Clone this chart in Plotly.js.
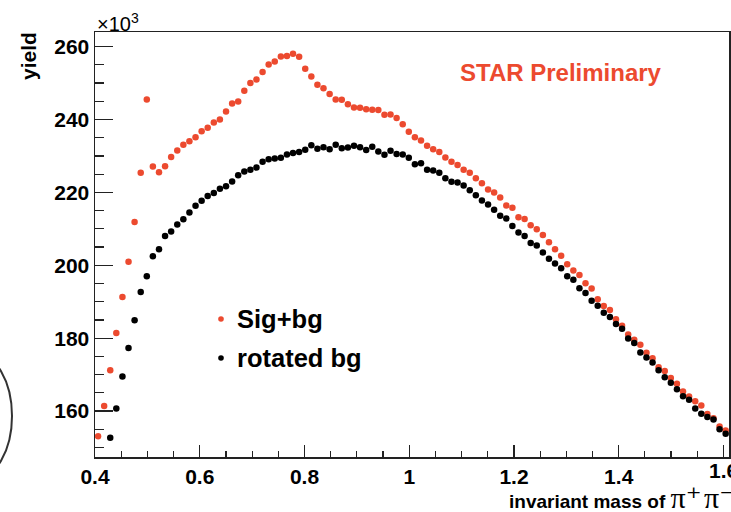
<!DOCTYPE html>
<html>
<head>
<meta charset="utf-8">
<script src="https://cdn.plot.ly/plotly-3.0.1.min.js"></script>
<style>
  html, body { margin: 0; padding: 0; background: #fff; }
  #chart { width: 731px; height: 512px; }
</style>
</head>
<body>
<div id="chart"></div>
<script>
// pi+pi- invariant mass, bin centres (GeV/c^2)
const massBins = [
  0.4058, 0.4175, 0.4291, 0.4407, 0.4524, 0.4640, 0.4756, 0.4873, 0.4989, 0.5105,
  0.5222, 0.5338, 0.5454, 0.5571, 0.5687, 0.5803, 0.5920, 0.6036, 0.6152, 0.6269,
  0.6385, 0.6502, 0.6618, 0.6734, 0.6851, 0.6967, 0.7083, 0.7200, 0.7316, 0.7432,
  0.7549, 0.7665, 0.7781, 0.7898, 0.8014, 0.8131, 0.8247, 0.8363, 0.8480, 0.8596,
  0.8712, 0.8829, 0.8945, 0.9061, 0.9178, 0.9294, 0.9410, 0.9527, 0.9643, 0.9759,
  0.9876, 0.9992, 1.0108, 1.0225, 1.0341, 1.0457, 1.0574, 1.0690, 1.0807, 1.0923,
  1.1039, 1.1156, 1.1272, 1.1388, 1.1505, 1.1621, 1.1737, 1.1854, 1.1970, 1.2086,
  1.2203, 1.2319, 1.2435, 1.2552, 1.2668, 1.2784, 1.2901, 1.3017, 1.3134, 1.3250,
  1.3366, 1.3483, 1.3599, 1.3715, 1.3832, 1.3948, 1.4064, 1.4181, 1.4297, 1.4413,
  1.4530, 1.4646, 1.4762, 1.4879, 1.4995, 1.5112, 1.5228, 1.5344, 1.5461, 1.5577,
  1.5693, 1.5810, 1.5926, 1.6042
];

// same-event pairs (signal + background), yield in units of 10^3
const sigPlusBg = [
  153.1, 161.4, 171.2, 181.4, 191.3, 201.0, 211.9, 225.4, 245.5, 227.1,
  225.5, 227.2, 229.7, 231.5, 233.1, 234.0, 235.1, 236.8, 237.7, 239.2,
  240.0, 242.2, 244.4, 244.9, 247.9, 250.0, 251.0, 253.0, 255.1, 255.9,
  257.3, 257.4, 258.0, 257.2, 253.9, 251.8, 249.5, 248.6, 247.0, 245.5,
  245.4, 244.2, 243.3, 243.2, 242.8, 242.7, 242.6, 241.3, 241.4, 240.4,
  238.7, 236.6, 235.1, 234.2, 232.8, 231.8, 231.1, 229.6, 228.4, 227.5,
  226.2, 225.4, 223.9, 222.5, 220.8, 220.0, 218.6, 216.4, 215.8, 213.2,
  212.7, 211.0, 209.9, 208.3, 206.3, 204.4, 202.6, 200.3, 198.6, 197.3,
  195.1, 193.6, 190.7, 188.8, 187.7, 185.2, 183.4, 181.0, 179.6, 178.2,
  176.0, 174.5, 172.0, 171.0, 169.1, 167.5, 165.4, 164.0, 162.7, 161.5,
  159.2, 158.0, 155.8, 154.7
];

// rotated-track background, yield in units of 10^3 (first two bins fall below the axis)
const rotatedBg = [
  null, null, 152.7, 160.7, 169.5, 177.3, 184.9, 192.7, 197.0, 202.5,
  204.4, 208.0, 209.3, 211.2, 212.6, 214.5, 216.3, 217.7, 219.0, 219.8,
  221.0, 221.7, 223.0, 224.7, 225.7, 226.2, 226.8, 228.4, 229.1, 229.3,
  229.5, 230.4, 230.8, 231.1, 231.7, 232.9, 232.0, 232.4, 231.8, 233.1,
  232.1, 232.3, 232.8, 232.4, 231.6, 232.5, 231.2, 230.3, 231.4, 230.5,
  230.4, 229.5, 227.7, 228.0, 226.2, 226.0, 225.4, 223.9, 222.9, 222.7,
  221.9, 220.6, 219.2, 217.8, 216.7, 215.2, 213.6, 212.8, 210.8, 209.0,
  208.0, 206.1, 205.4, 203.5, 201.8, 200.5, 199.2, 197.0, 196.0, 193.7,
  192.4, 190.3, 188.9, 187.0, 185.8, 183.9, 182.6, 179.9, 178.7, 176.1,
  174.7, 173.3, 171.2, 169.3, 167.8, 166.0, 164.1, 163.1, 160.7, 159.3,
  158.4, 157.7, 155.0, 153.8
];

const seriesNames = ['Sig+bg', 'rotated bg'];

// x tick label at the right edge of the frame, drawn separately so it can run off the page
const edgeTick = { value: 1.6, label: '1.6' };

const RED = '#ec4a2f';
const FONT = 'Liberation Sans, Arial, sans-serif';

// plot-area geometry in pixels, used to place the ROOT-style key and labels
const W = 731, H = 512, ML = 95, MR = 2, MT = 32, MB = 55;
const PW = W - ML - MR, PH = H - MT - MB;
const px = v => (v - ML) / PW;
const py = v => (H - MB - v) / PH;

const traces = [
  {
    x: massBins, y: sigPlusBg, name: seriesNames[0],
    type: 'scatter', mode: 'markers',
    marker: { color: RED, size: 6.5 }
  },
  {
    x: massBins, y: rotatedBg, name: seriesNames[1],
    type: 'scatter', mode: 'markers',
    marker: { color: '#000', size: 6.5 }
  }
];

const TICKFONT = { family: FONT, size: 21, color: '#000', weight: 700 };

const axisCommon = {
  showgrid: false, zeroline: false,
  showline: true, mirror: true, linecolor: '#222', linewidth: 1.5,
  ticks: 'inside', tickcolor: '#222', tickwidth: 1.3,
  tickfont: TICKFONT
};

// key: marker swatch + label for each series
const keyRows = [
  { name: seriesNames[0], color: RED, y: 319 },
  { name: seriesNames[1], color: '#000', y: 358 }
];
const keyShapes = keyRows.map(r => ({
  type: 'circle', xref: 'paper', yref: 'paper',
  x0: px(221 - 2.8), x1: px(221 + 2.8), y0: py(r.y + 2.8), y1: py(r.y - 2.8),
  fillcolor: r.color, line: { width: 0 }
}));
const keyLabels = keyRows.map(r => ({
  text: '<b>' + r.name + '</b>', xref: 'paper', yref: 'paper',
  x: px(235), y: py(r.y), xanchor: 'left', yanchor: 'middle', showarrow: false,
  font: { family: FONT, size: 25.5, color: '#000' }
}));

const layout = {
  width: W, height: H,
  margin: { l: ML, r: MR, t: MT, b: MB },
  paper_bgcolor: '#fff', plot_bgcolor: '#fff',
  showlegend: false,
  xaxis: Object.assign({}, axisCommon, {
    range: [0.4, 1.6106], dtick: 0.2, tick0: 0.4, ticklen: 12,
    minor: { dtick: 0.05, tick0: 0.4, ticklen: 6, ticks: 'inside', tickcolor: '#222', tickwidth: 1.2 }
  }),
  yaxis: Object.assign({}, axisCommon, {
    range: [147.4, 264.0], dtick: 20, tick0: 0, ticklen: 18,
    minor: { dtick: 5, tick0: 0, ticklen: 9, ticks: 'inside', tickcolor: '#222', tickwidth: 1.2 }
  }),
  annotations: [
    {
      text: '×10<sup>3</sup>', xref: 'paper', yref: 'paper',
      x: 0, y: 1.0, xanchor: 'left', yanchor: 'bottom', yshift: -5, showarrow: false,
      font: { family: FONT, size: 20, color: '#000' }
    },
    {
      text: '<b>yield</b>', xref: 'paper', yref: 'paper', textangle: -90,
      x: px(28), y: py(56), xanchor: 'center', yanchor: 'middle', showarrow: false,
      font: { family: FONT, size: 21, color: '#000' }
    },
    {
      text: '<b>STAR Preliminary</b>', xref: 'paper', yref: 'paper',
      x: px(458), y: py(73), xanchor: 'left', yanchor: 'middle', showarrow: false,
      font: { family: FONT, size: 24, color: RED }
    },
    {
      text: '<b>invariant mass of </b><span style="font-family:Liberation Serif,DejaVu Serif,serif;font-size:30px">π⁺\u200Aπ⁻</span>',
      xref: 'paper', yref: 'paper',
      x: px(507), y: py(497), xanchor: 'left', yanchor: 'middle', showarrow: false,
      font: { family: FONT, size: 19, color: '#000' }
    },
    {
      text: edgeTick.label, xref: 'x', yref: 'paper',
      x: edgeTick.value, y: py(470), xanchor: 'center', yanchor: 'middle', showarrow: false,
      font: TICKFONT
    }
  ].concat(keyLabels),
  shapes: [
    {
      type: 'circle', xref: 'paper', yref: 'paper',
      x0: px(-62), x1: px(12), y0: py(479), y1: py(353),
      line: { color: '#333', width: 2 }, fillcolor: 'rgba(0,0,0,0)'
    }
  ].concat(keyShapes)
};

Plotly.newPlot('chart', traces, layout, { staticPlot: true, displayModeBar: false });
</script>
</body>
</html>
